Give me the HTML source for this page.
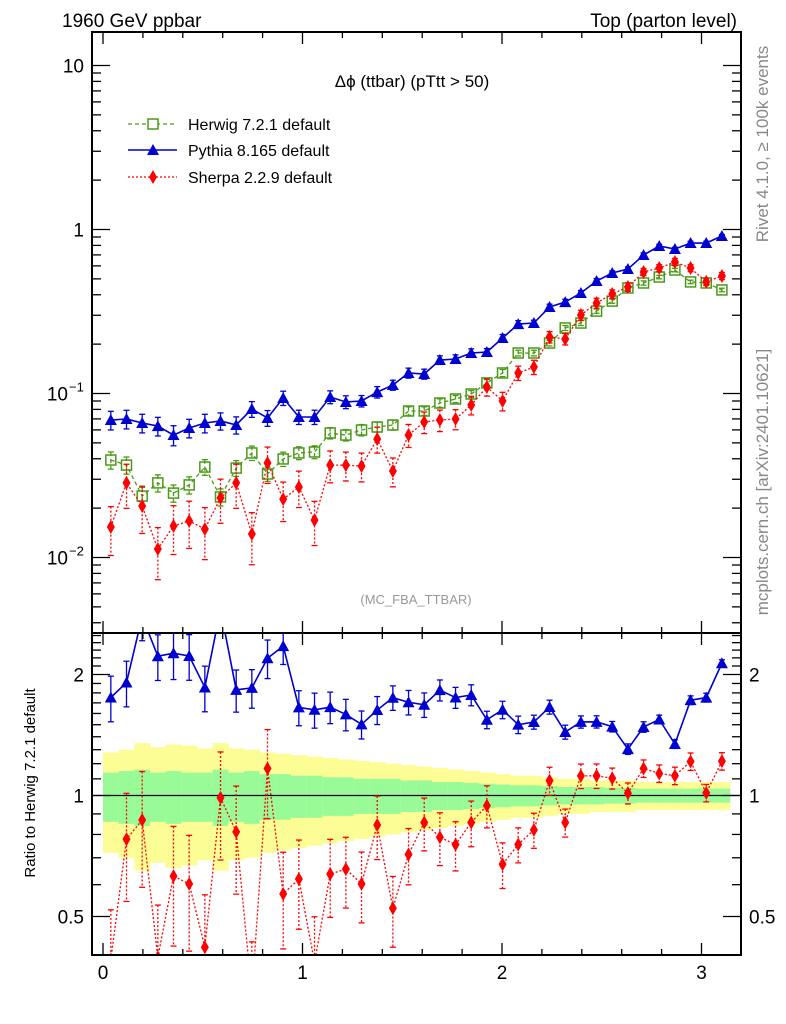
<!DOCTYPE html>
<html><head><meta charset="utf-8"><style>
body{margin:0;background:#fff;}
svg{display:block;font-family:"Liberation Sans",sans-serif;}
</style></head><body>
<svg id="chart" width="786" height="1024" viewBox="0 0 786 1024" xmlns="http://www.w3.org/2000/svg">
<defs>
<clipPath id="cm"><rect x="92" y="32" width="649" height="601"/></clipPath>
<clipPath id="cr"><rect x="92" y="633" width="649" height="322"/></clipPath>
</defs>
<g id="bands" clip-path="url(#cr)"></g>
<g id="series"></g>
<g id="axes"></g>
<text x="62" y="27" font-size="19">1960 GeV ppbar</text>
<text x="737" y="27" font-size="19" text-anchor="end">Top (parton level)</text>
<text x="412" y="87" font-size="17" text-anchor="middle">Δϕ (ttbar) (pTtt &gt; 50)</text>
<text x="416" y="604" font-size="13" fill="#999" text-anchor="middle">(MC_FBA_TTBAR)</text>
<text transform="translate(768,144) rotate(-90)" font-size="17" fill="#888" text-anchor="middle">Rivet 4.1.0, ≥ 100k events</text>
<text transform="translate(768,482) rotate(-90)" font-size="17" fill="#888" text-anchor="middle">mcplots.cern.ch [arXiv:2401.10621]</text>
<text transform="translate(35,783) rotate(-90)" font-size="15" text-anchor="middle">Ratio to Herwig 7.2.1 default</text>
<g font-size="16">
 <g>
  <line x1="128" y1="124" x2="177" y2="124" stroke="#4a9a16" stroke-width="1.3" stroke-dasharray="4,3"/>
  <rect x="148" y="119" width="10" height="10" fill="#fff" stroke="#4a9a16" stroke-width="1.5"/>
  <text x="188" y="130">Herwig 7.2.1 default</text></g>
 <g>
  <line x1="128" y1="150" x2="177" y2="150" stroke="#0000d0" stroke-width="1.5"/>
  <polygon points="153,144 159,155 147,155" fill="#0000d0"/>
  <text x="188" y="156">Pythia 8.165 default</text></g>
 <g>
  <line x1="128" y1="177" x2="177" y2="177" stroke="#f00" stroke-width="1.3" stroke-dasharray="2,2"/>
  <polygon points="153,170 157,177 153,184 149,177" fill="#f00"/>
  <text x="188" y="183">Sherpa 2.2.9 default</text></g>
</g>
</svg>
<script>
const herwig=[0.0393,0.0366,0.0237,0.0285,0.0247,0.0277,0.0356,0.0234,0.0351,0.0434,0.0323,0.0399,0.0434,0.0440,0.0574,0.0558,0.0599,0.0625,0.0643,0.0782,0.0782,0.0875,0.0926,0.0993,0.116,0.1334,0.1766,0.1766,0.203,0.251,0.269,0.318,0.366,0.440,0.472,0.513,0.566,0.479,0.472,0.428];
const pythia=[0.0689,0.0699,0.0661,0.0633,0.0558,0.0616,0.0661,0.0680,0.0643,0.0804,0.0709,0.0939,0.0719,0.0719,0.0952,0.0888,0.0900,0.102,0.1126,0.1334,0.1315,0.160,0.1623,0.1766,0.179,0.218,0.265,0.269,0.337,0.361,0.410,0.485,0.543,0.574,0.699,0.793,0.760,0.827,0.827,0.913];
const sherpa=[0.01535,0.0285,0.0206,0.01127,0.01556,0.0167,0.01493,0.0231,0.0285,0.0139,0.0377,0.0227,0.0269,0.0169,0.0366,0.0366,0.0361,0.0528,0.0337,0.0558,0.067,0.0689,0.0699,0.0851,0.1095,0.090,0.1334,0.145,0.221,0.215,0.301,0.356,0.404,0.446,0.551,0.582,0.634,0.582,0.479,0.521];
const herwigErr=[0.12,0.12,0.13,0.12,0.12,0.12,0.11,0.12,0.11,0.1,0.1,0.1,0.09,0.09,0.08,0.08,0.08,0.07,0.07,0.06,0.06,0.06,0.05,0.05,0.05,0.05,0.04,0.04,0.04,0.035,0.035,0.03,0.03,0.03,0.03,0.025,0.025,0.025,0.025,0.025];
const pythiaErr=[0.13,0.13,0.13,0.13,0.14,0.13,0.13,0.12,0.12,0.11,0.11,0.1,0.1,0.1,0.09,0.09,0.08,0.08,0.07,0.07,0.07,0.06,0.06,0.06,0.05,0.05,0.05,0.04,0.04,0.04,0.035,0.035,0.03,0.03,0.03,0.025,0.025,0.025,0.025,0.02];
const sherpaErr=[0.33,0.3,0.32,0.35,0.33,0.32,0.35,0.3,0.3,0.35,0.25,0.27,0.25,0.3,0.22,0.2,0.2,0.18,0.2,0.16,0.15,0.15,0.14,0.13,0.12,0.13,0.1,0.1,0.08,0.08,0.07,0.07,0.06,0.06,0.05,0.05,0.05,0.05,0.05,0.05];
const greenBand=[0.14,0.15,0.16,0.14,0.15,0.14,0.14,0.16,0.14,0.15,0.13,0.13,0.12,0.12,0.11,0.11,0.1,0.1,0.1,0.09,0.09,0.08,0.08,0.075,0.07,0.065,0.06,0.06,0.055,0.05,0.05,0.05,0.045,0.045,0.04,0.04,0.04,0.04,0.04,0.04];
const yellowBand=[0.28,0.3,0.35,0.32,0.34,0.33,0.31,0.35,0.31,0.3,0.28,0.27,0.26,0.25,0.24,0.23,0.22,0.21,0.2,0.19,0.18,0.17,0.16,0.15,0.14,0.13,0.12,0.12,0.11,0.1,0.1,0.09,0.09,0.09,0.08,0.08,0.08,0.08,0.08,0.08];
const xTicks=[0,1,2,3];
const yMainTicks=[10,1,0.1,0.01];
const yMainLabels=["10","1","10","10"];
const yMainExp=["","","−1","−2"];
const yRatioTicks=[2,1,0.5];
const yRatioLabels=["2","1","0.5"];

const NS="http://www.w3.org/2000/svg";
const N=herwig.length, binW=Math.PI/N;
const X=v=>103+199.5*v;
const YM=v=>229.5-164*Math.log10(v);
const YR=v=>795.5-121*Math.log2(v);
function mk(tag,attrs,parent){const e=document.createElementNS(NS,tag);for(const k in attrs)e.setAttribute(k,attrs[k]);parent.appendChild(e);return e;}
const bands=document.getElementById('bands'), ser=document.getElementById('series'), ax=document.getElementById('axes');

for(let i=0;i<N;i++){
 const x0=X(i*binW),x1=X((i+1)*binW);
 const y=mk('rect',{x:x0,y:YR(1+yellowBand[i]),width:x1-x0+0.5,height:YR(1-yellowBand[i])-YR(1+yellowBand[i]),fill:'#fdfd96'},bands);
 
 
 const g=mk('rect',{x:x0,y:YR(1+greenBand[i]),width:x1-x0+0.5,height:YR(1-greenBand[i])-YR(1+greenBand[i]),fill:'#98fb98'},bands);
 
 
}
const one=mk('line',{x1:92,x2:741,y1:YR(1),y2:YR(1),stroke:'#000','stroke-width':1.3},bands);



function marker(type,cx,cy,color,par){
 let m;
 if(type==='sq') m=mk('rect',{x:cx-5,y:cy-5,width:10,height:10,fill:'none',stroke:color,'stroke-width':1.5},par);
 else if(type==='tri') m=mk('polygon',{points:`${cx},${cy-6} ${cx+6},${cy+5} ${cx-6},${cy+5}`,fill:color},par);
 else m=mk('polygon',{points:`${cx},${cy-7} ${cx+4},${cy} ${cx},${cy+7} ${cx-4},${cy}`,fill:color},par);
 return m;
}
function drawSeries(name,vals,errs,Y,clip,color,type,dash,ref){
 const g=mk('g',{'clip-path':`url(#${clip})`},ser);
 
 
 let pts=[];
 for(let i=0;i<N;i++){
  let v=vals[i]; if(ref) v=v/ref[i];
  const cx=X((i+0.5)*binW), cy=Y(v);
  pts.push(cx+','+cy);
  const eb=mk('line',{x1:cx,x2:cx,y1:Y(v*(1+errs[i])),y2:Y(v*(1-errs[i])),stroke:color,'stroke-width':1.3,'stroke-dasharray':dash},g);
  
  
  for(const e of [1+errs[i],1-errs[i]]){mk('line',{x1:cx-3,x2:cx+3,y1:Y(v*e),y2:Y(v*e),stroke:color,'stroke-width':1.3},g);}
 }
 const pl=mk('polyline',{points:pts.join(' '),fill:'none',stroke:color,'stroke-width':type==='tri'?1.6:1.3,'stroke-dasharray':dash},g);
 
 
 for(let i=0;i<N;i++){
  let v=vals[i]; if(ref) v=v/ref[i];
  const m=marker(type,X((i+0.5)*binW),Y(v),color,g);
  
  
 }
}
drawSeries('herwig-series',herwig,herwigErr,YM,'cm','#4a9a16','sq','4,3',null);
drawSeries('pythia-series',pythia,pythiaErr,YM,'cm','#0000d0','tri','none',null);
drawSeries('sherpa-series',sherpa,sherpaErr,YM,'cm','#f00','dia','2,2',null);
drawSeries('pythia-ratio',pythia,pythiaErr,YR,'cr','#0000d0','tri','none',herwig);
drawSeries('sherpa-ratio',sherpa,sherpaErr,YR,'cr','#f00','dia','2,2',herwig);

for(const [y0,y1,nm] of [[32,633,'main-frame'],[633,955,'ratio-frame']]){
 const r=mk('rect',{x:92,y:y0,width:649,height:y1-y0,fill:'none',stroke:'#000','stroke-width':2},ax);
 
 
}
function tk(x1,y1,x2,y2){mk('line',{x1,y1,x2,y2,stroke:'#000','stroke-width':1.3},ax);}
for(let v=0;v<=3.2;v+=0.2){
 const maj=Math.abs(v-Math.round(v))<0.01, L=maj?12:6, x=X(v);
 for(const [top,bot] of [[32,633],[633,955]]){tk(x,bot,x,bot-L);tk(x,top,x,top+L);}
}
xTicks.forEach((v,i)=>{const t=mk('text',{x:X(v),y:979,'font-size':19,'text-anchor':'middle'},ax);t.textContent=String(xTicks[i]);
 
 });
for(let d=-3;d<=1;d++)for(let k=1;k<=9;k++){
 const v=k*Math.pow(10,d),y=YM(v); if(y<32||y>633)continue;
 const L=k===1?18:9; tk(92,y,92+L,y); tk(741,y,741-L,y);
}
yMainTicks.forEach((v,i)=>{
 const t=mk('text',{x:yMainExp[i]?68:84,y:YM(v)+7,'font-size':19,'text-anchor':'end'},ax);
 t.textContent=yMainLabels[i];
 
 
 if(yMainExp[i]){const s=mk('text',{x:69,y:YM(v)-2,'font-size':13},ax);s.textContent=yMainExp[i];
  
  }
});
for(const v of [0.4,0.5,0.6,0.7,0.8,0.9,1,1.1,1.2,1.3,1.4,1.5,1.6,1.7,1.8,1.9,2,2.1,2.2,2.3,2.4,2.5]){
 const y=YR(v); if(y<633||y>955)continue; const L=(v===0.5||v===1||v===2)?18:9;
 tk(92,y,92+L,y); tk(741,y,741-L,y);
}
yRatioTicks.forEach((v,i)=>{
 const a=mk('text',{x:84,y:YR(v)+7,'font-size':19,'text-anchor':'end'},ax);a.textContent=yRatioLabels[i];
 
 
 const b=mk('text',{x:749,y:YR(v)+7,'font-size':19},ax);b.textContent=yRatioLabels[i];
 
 
});
</script>
</body></html>
